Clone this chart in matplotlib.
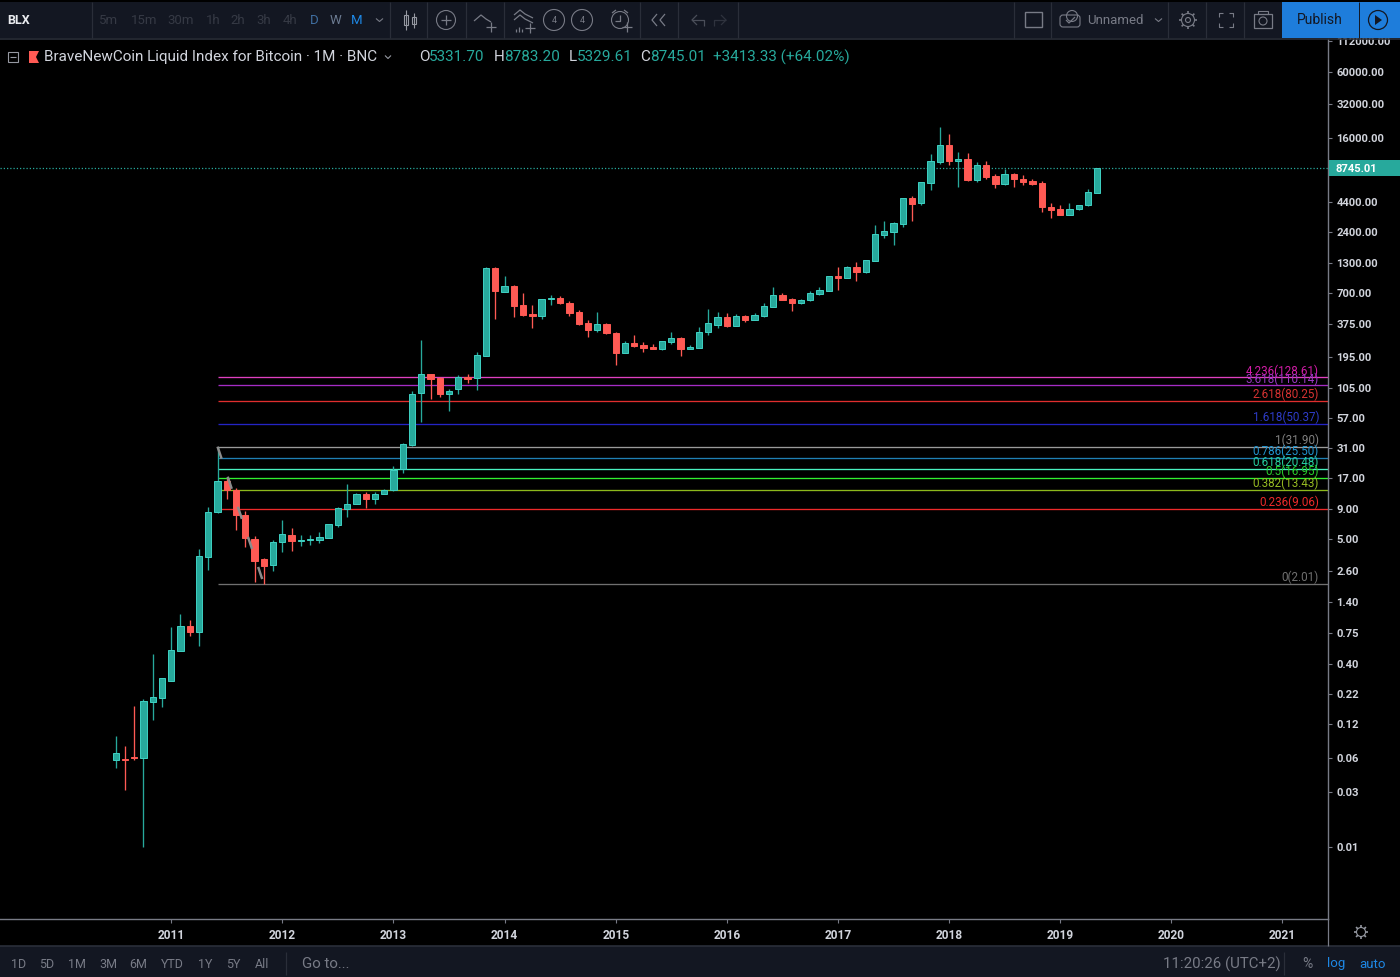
import matplotlib
matplotlib.use("Agg")
import matplotlib.pyplot as plt
import matplotlib.patches as mpatches
from matplotlib.transforms import blended_transform_factory
import numpy as np

plt.rcParams['font.family'] = ['Roboto', 'DejaVu Sans']

# monthly candles, Jul 2010 .. May 2019
opens = [.0581, .0589, .0614, .0605, .187, .2028, .2858, .522, .859, .762, 3.47, 8.61,
         15.96, 13.3, 8.05, 4.97, 3.30, 2.94, 4.63, 5.38, 4.80, 4.83, 4.90, 5.09,
         6.62, 9.14, 10.1, 12.2, 11.0, 12.4, 13.3, 20.3, 33.0, 93.4, 138, 127,
         91.5, 101, 129, 128, 199, 1174, 724, 812, 550, 462, 443, 625,
         638, 581, 481, 385, 332, 377, 317, 212, 257, 247, 236, 228,
         264, 283, 228, 234, 321, 372, 432, 365, 443, 412, 447, 532,
         677, 629, 573, 608, 697, 735, 994, 955, 1191, 1070, 1345, 2270,
         2427, 2834, 4786, 4298, 6480, 9880, 14020, 10160, 10500, 6840, 9310, 7510,
         6345, 7760, 7070, 6700, 6430, 4020, 3810, 3400, 3835, 4128, 5331.70]
highs = [.0931, .0766, .1726, .1977, .489, .299, .847, 1.086, .97, 4.03, 9.46, 31.9,
         16.9, 13.8, 8.72, 5.27, 3.36, 4.86, 7.23, 6.19, 5.38, 5.38, 5.67, 6.76,
         9.39, 15.0, 12.6, 12.8, 12.7, 13.6, 21.5, 34.1, 98.5, 273, 138, 129,
         102, 135, 138, 215, 1182, 1182, 987, 829, 710, 554, 629, 677,
         668, 604, 500, 409, 481, 385, 319, 266, 300, 261, 252, 270,
         319, 289, 247, 355, 511, 481, 471, 462, 452, 471, 577, 796,
         710, 634, 629, 729, 796, 994, 1200, 1224, 1318, 1372, 2780, 3010,
         2950, 4786, 4982, 6600, 11600, 20000, 17370, 12100, 11850, 9880, 10090, 7810,
         8650, 7870, 7560, 6970, 6700, 4360, 4187, 4298, 4187, 5700, 8783.20]
lows = [.0495, .0315, .0578, .0101, .1294, .169, .2858, .522, .708, .570, 2.65, 8.43,
        11.1, 5.94, 4.25, 2.07, 2.01, 2.62, 3.79, 3.90, 4.28, 4.43, 4.61, 5.06,
        6.37, 7.67, 9.97, 9.33, 10.1, 12.3, 13.1, 18.9, 32.3, 52.0, 83.3, 87.4,
        65.4, 92.8, 115, 100, 199, 418, 724, 435, 443, 348, 418, 554,
        565, 447, 372, 289, 319, 306, 164, 212, 239, 215, 228, 225,
        254, 198, 227, 233, 300, 351, 358, 362, 393, 409, 435, 532,
        613, 491, 569, 604, 682, 735, 750, 948, 898, 1062, 1345, 2153,
        1857, 2687, 3010, 4187, 5620, 9500, 9310, 5970, 6700, 6600, 7070, 5850,
        6220, 5970, 6220, 6220, 3583, 3200, 3375, 3375, 3730, 4100, 5329.61]
closes = [.0665, .0582, .0601, .1897, .2056, .299, .526, .859, .762, 3.50, 8.55, 15.96,
          13.3, 8.11, 5.09, 3.21, 2.88, 4.67, 5.48, 4.80, 4.86, 4.97, 5.16, 6.67,
          9.20, 10.0, 12.4, 11.0, 12.4, 13.2, 20.0, 33.4, 92.8, 138, 124.6, 91.5,
          97.8, 129, 125, 202, 1174, 739, 812, 543, 452, 447, 629, 642,
          581, 475, 380, 332, 377, 313, 212, 256, 242, 234, 230, 266,
          287, 230, 236, 321, 383, 432, 365, 443, 412, 452, 539, 677,
          617, 573, 613, 705, 750, 986, 961, 1191, 1070, 1372, 2317, 2460,
          2893, 4786, 4270, 6565, 10090, 14020, 10090, 10430, 6840, 9310, 7360, 6345,
          7760, 7020, 6600, 6345, 3965, 3730, 3375, 3860, 4155, 5370, 8745.01]

# fib retracement drawing
fib_levels = ['4.236', '3.618', '2.618', '1.618', '1', '0.786', '0.618', '0.5', '0.382', '0.236', '0']
fib_prices = [128.61, 110.14, 80.25, 50.37, 31.90, 25.50, 20.48, 16.95, 13.43, 9.06, 2.01]
fib_colors = ['#e040c0', '#a52cc4', '#e02e2e', '#2424c4', '#9a9a9a', '#1f7fb4',
              '#48f0c0', '#30f030', '#8db81c', '#ee2a2a', '#707070']
fib_label_colors = ['#d31ca8', '#9a38c4', '#d83232', '#2e3cc8', '#808080', '#2094d0',
                    '#25d0a0', '#28d02c', '#98bc22', '#ee2a2a', '#707070']

y_ticks = [112000, 60000, 32000, 16000, 4400, 2400, 1300, 700, 375, 195, 105, 57, 31, 17,
           9, 5, 2.6, 1.4, .75, .40, .22, .12, .06, .03, .01]
years = list(range(2011, 2022))
last_price = 8745.01

W, H = 1400, 977
UP = '#27a99c'
UP_EDGE = '#3fd1c3'
DOWN = '#ff5a54'
AXIS = '#787b86'
PANEL = '#131722'

fig = plt.figure(figsize=(W / 100, H / 100), dpi=100, facecolor='black')

# main chart, pixel box x 0-1328, y 39-919
ax = fig.add_axes([0, 1 - 919 / H, 1328 / W, 880 / H], facecolor='black')
ax.set_yscale('log')
ax.set_xlim(-12.49, 130.92)
ax.set_ylim(0.002344, 117760)

x = np.arange(len(opens))
o, h, l, c = map(np.array, (opens, highs, lows, closes))
up = c >= o
ax.vlines(x[up], l[up], h[up], color=UP, lw=0.95, zorder=3)
ax.vlines(x[~up], l[~up], h[~up], color=DOWN, lw=0.95, zorder=3)
bot = np.minimum(o, c)
top = np.maximum(o, c)
ax.bar(x[up], top[up] - bot[up], bottom=bot[up], width=0.68, color=UP, edgecolor=UP_EDGE, lw=0.7, zorder=4)
ax.bar(x[~up], top[~up] - bot[~up], bottom=bot[~up], width=0.68, color=DOWN, edgecolor=DOWN, lw=0.7, zorder=4)

# fib lines start at the Jun 2011 bar
trans = blended_transform_factory(ax.transAxes, ax.transData)
for lev, price, col, lab in zip(fib_levels, fib_prices, fib_colors, fib_label_colors):
    ax.hlines(price, 11, 130.92, color=col, lw=0.95, zorder=2, snap=True)
    ax.annotate(f'{lev}({price:.2f})', xy=(1319 / 1328, price), xycoords=trans, xytext=(0, -0.3),
                textcoords='offset points', ha='right', va='bottom', color=lab, fontsize=8.4, zorder=5)
ax.plot([11, 16], [fib_prices[4], fib_prices[10]], color='#8c8c8c', lw=1.8,
        ls=(0, (5.1, 7.6)), dash_capstyle='butt', zorder=5)

ax.axhline(last_price, color=UP, lw=0.9, ls=(0, (1, 1.6)), zorder=2.5)

# axes
for s in ['top', 'left']:
    ax.spines[s].set_visible(False)
for s in ['right', 'bottom']:
    ax.spines[s].set_color(AXIS)
    ax.spines[s].set_linewidth(1.0)
ax.yaxis.tick_right()
ax.set_yticks(y_ticks)
ax.set_yticklabels([f'{v:.2f}' for v in y_ticks])
ax.minorticks_off()
ax.tick_params(axis='y', colors='#d1d4dc', length=3, width=0.8, pad=3, labelsize=8.1)
for t in ax.get_yticklabels():
    t.set_fontweight('bold')
ax.set_xticks([(yr - 2010) * 12 - 6 for yr in years])
ax.set_xticklabels(years)
ax.tick_params(axis='x', colors='#d1d4dc', length=3, width=0.8, pad=4, labelsize=8.6)
for t in ax.get_xticklabels():
    t.set_fontweight('bold')
ax.tick_params(axis='both', color=AXIS)

# overlay in pixel coords for the tradingview chrome
ov = fig.add_axes([0, 0, 1, 1], facecolor='none')
ov.set_xlim(0, W)
ov.set_ylim(H, 0)
ov.axis('off')


def rect(x0, y0, x1, y1, fc, ec='none', lw=0):
    ov.add_patch(mpatches.Rectangle((x0, y0), x1 - x0, y1 - y0, fc=fc, ec=ec, lw=lw))


def txt(px, py, s, color='#d1d4dc', size=9, ha='center', **kw):
    ov.text(px, py, s, color=color, fontsize=size, ha=ha, va='center', **kw)


def line(xs, ys, color='#787b86', lw=0.9):
    ov.plot(xs, ys, color=color, lw=lw, solid_capstyle='butt')


def circle(cx, cy, r, ec='#787b86', lw=0.8):
    ov.add_patch(mpatches.Circle((cx, cy), r, fc='none', ec=ec, lw=lw))


def gear(cx, cy, r, color, teeth):
    circle(cx, cy, r, color, 0.8)
    for a in np.linspace(0, 2 * np.pi, teeth, endpoint=False):
        line([cx + r * np.cos(a), cx + (r + 2.5) * np.cos(a)],
             [cy + r * np.sin(a), cy + (r + 2.5) * np.sin(a)], color, 1.2)


# top bar
rect(0, 2, W, 38, PANEL)
line([0, W], [38.5, 38.5], '#2a2e39', 1.2)
for sx in [92, 390, 427, 466, 504, 640, 678, 738, 1014, 1051, 1168, 1206, 1244]:
    line([sx, sx], [2, 38], '#2a2e39', 0.9)
txt(19, 20, 'BLX', '#e8eaee', 9, fontweight='bold')
for px, s, col in [(109, '5m', '#363a45'), (144, '15m', '#363a45'), (181, '30m', '#363a45'),
                   (213, '1h', '#363a45'), (238, '2h', '#363a45'), (264, '3h', '#363a45'),
                   (290, '4h', '#363a45'), (314, 'D', '#3f6ea0'), (335, 'W', '#6b7a90'),
                   (357, 'M', '#1e88e5')]:
    txt(px, 20, s, col, 9.5)
line([376, 379.5, 383], [18.5, 21.5, 18.5], '#787b86', 0.8)
# candle icon
line([406, 406], [10, 30], '#9598a1', 0.8)
line([414, 414], [13, 28], '#9598a1', 0.8)
rect(404, 15, 408, 25, PANEL, '#9598a1', 0.8)
rect(412, 17, 416, 24, PANEL, '#9598a1', 0.8)
circle(446, 20, 9.5)
line([441, 451], [20, 20])
line([446, 446], [15, 25])
line([474, 481, 486, 491], [21, 15, 19, 22])
line([486, 496], [27, 27])
line([491, 491], [22, 32])
line([514, 520, 525, 533], [15, 10, 14, 18])
line([514, 520, 525, 533], [20, 15, 19, 23])
line([525, 535], [28, 28])
line([530, 530], [23, 33])
for ix, iy in [(516, 29), (519, 27), (522, 29)]:
    line([ix, ix], [iy, 32])
circle(554, 20, 10.5)
txt(554, 20.5, '4', '#787b86', 6.5)
circle(582, 20, 10.5)
txt(582, 20.5, '4', '#787b86', 6.5)
circle(620, 20, 8.5)
line([620, 620, 615], [15, 21, 21])
line([622, 632], [27, 27])
line([627, 627], [22, 32])
line([612, 616], [13, 10])
line([628, 624], [13, 10])
line([657, 652, 657], [14, 20, 26])
line([665, 660, 665], [14, 20, 26])
line([697, 692, 697], [15, 20, 25], '#4a4e59')
line([692, 704, 704], [20, 20, 26], '#4a4e59')
line([721, 726, 721], [15, 20, 25], '#2f333e')
line([726, 714, 714], [20, 20, 26], '#2f333e')

rect(1025, 12, 1042, 27, 'none', '#787b86', 1.0)
# cloud
ov.add_patch(mpatches.FancyBboxPatch((1063, 18), 14, 6, boxstyle='round,pad=3', fc='none', ec='#787b86', lw=0.8))
circle(1072, 16, 5.5)
line([1066, 1069, 1075], [20, 23, 17])
txt(1115, 20, 'Unnamed', '#787b86', 9.5)
line([1155, 1158.5, 1162], [18.5, 21.5, 18.5], '#787b86', 0.8)
gear(1188, 20, 6.5, '#787b86', 8)
circle(1188, 20, 2.5)
for ix, iy, dx, dy in [(1219, 13, 1, 1), (1233, 13, -1, 1), (1219, 27, 1, -1), (1233, 27, -1, -1)]:
    line([ix, ix, ix + 4 * dx], [iy + 4 * dy, iy, iy], '#787b86', 0.8)
rect(1254, 14, 1272, 28, 'none', '#787b86', 0.9)
circle(1263, 21, 4)
rect(1258, 11, 1268, 14, 'none', '#787b86', 0.8)
rect(1282, 2, W, 38, '#1e7ddb')
line([1359, 1359], [2, 38], '#131722', 0.7)
txt(1320, 20, 'Publish', '#131722', 10)
circle(1378, 20, 9.5, '#131722', 0.9)
ov.add_patch(mpatches.Polygon([(1375, 15), (1375, 25), (1382, 20)], fc='#131722', ec='none'))

# legend row
rect(8, 52, 18, 62, 'none', '#9598a1', 0.8)
line([10, 16], [57, 57], '#9598a1', 0.8)
ov.add_patch(mpatches.Polygon([(29, 51), (39, 51), (36, 57), (39, 63), (29, 63)], fc=DOWN, ec='none'))
txt(44, 57, 'BraveNewCoin Liquid Index for Bitcoin · 1M · BNC', '#d1d4dc', 11, ha='left')
line([385, 388, 391], [55.5, 58.5, 55.5], '#9598a1', 0.8)
for lx, letter, vx, val in [(419, 'O', 429, '5331.70'), (494, 'H', 504, '8783.20'),
                            (569, 'L', 577, '5329.61'), (640, 'C', 650, '8745.01')]:
    txt(lx, 57, letter, '#d1d4dc', 11, ha='left')
    txt(vx, 57, val, UP, 11, ha='left')
txt(713, 57, '+3413.33 (+64.02%)', UP, 11, ha='left')

# last price tag
rect(1329, 160, W, 176, UP)
txt(1336, 168.5, f'{last_price:.2f}', 'white', 8.1, ha='left', fontweight='bold')

# bottom bar
rect(0, 946, W, H, PANEL)
line([0, W], [945.5, 945.5], '#2a2e39', 1.2)
for px, s in [(19, '1D'), (47, '5D'), (77, '1M'), (108, '3M'), (138, '6M'), (172, 'YTD'),
              (205, '1Y'), (233, '5Y'), (262, 'All')]:
    txt(px, 964, s, '#787b86', 9)
for sx in [286, 1284]:
    line([sx, sx], [952, 975], '#2a2e39', 0.9)
txt(302, 964, 'Go to...', '#787b86', 10.8, ha='left')
txt(1281, 964, '11:20:26 (UTC+2)', '#787b86', 10.8, ha='right')
txt(1307, 964, '%', '#787b86', 10)
txt(1336, 964, 'log', '#1e88e5', 9.5)
txt(1372, 964, 'auto', '#1e88e5', 9.5)

# settings gear under the price axis
line([1328, 1328], [919, 946], AXIS, 0.9)
gear(1361, 932, 4.5, '#9598a1', 8)

fig.savefig('out.png', dpi=100, facecolor='black')
